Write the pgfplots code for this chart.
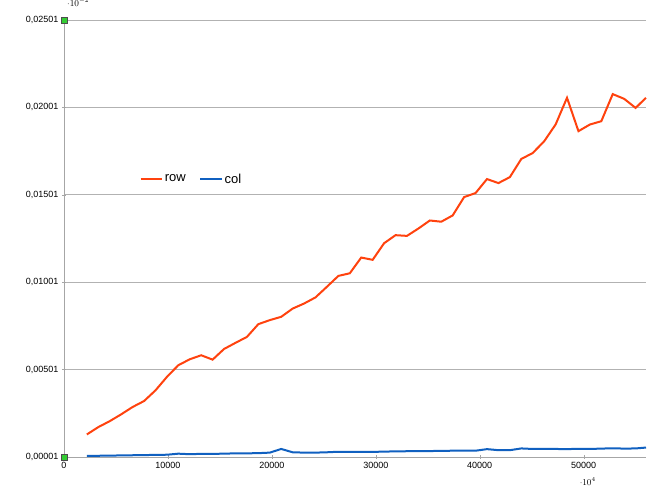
\documentclass[border=0pt]{standalone}
\usepackage{pgfplots}
\pgfplotsset{compat=1.18}
\usetikzlibrary{calc}
\usepackage{fontspec}
\setmainfont{Liberation Sans}
\definecolor{rowc}{HTML}{FF420E}
\definecolor{colc}{HTML}{1060C0}
\begin{document}
\begin{tikzpicture}
\begin{axis}[name=ax, scale only axis, width=582pt, height=437pt,
  xmin=0, xmax=56000, ymin=0.00001, ymax=0.02501,
  axis lines=left, axis line style={gray!70,-}, 
  xtick={0,10000,...,50000}, xticklabels={0,10000,20000,30000,40000,50000},
  ytick={0.00001,0.00501,0.01001,0.01501,0.02001,0.02501},
  yticklabels={{0,00001},{0,00501},{0,01001},{0,01501},{0,02001},{0,02501}},
  ymajorgrids, grid style={gray!60, line width=0.6pt},
  major tick length=4pt, tick style={gray!70},
  tick label style={font=\fontsize{9}{10}\selectfont},
  clip=false,
  legend style={draw=none, fill=none, at={(axis cs:7000,0.0159)}, anchor=west, font=\fontsize{13}{14}\selectfont, legend columns=2, /tikz/every even column/.append style={column sep=12pt}},
  legend image code/.code={\draw[#1, line width=1.5pt] (0cm,0cm) -- (0.75cm,0cm);},
]
\addplot[rowc, line width=2pt] coordinates {
(2200,0.0013)(3300,0.00172)(4400,0.00206)(5500,0.00245)(6600,0.00287)(7700,0.00321)(8800,0.00382)(9900,0.00459)(11000,0.00526)(12100,0.0056)
(13200,0.00583)(14300,0.00558)(15400,0.00619)(16500,0.00654)(17600,0.00688)(18700,0.00761)(19800,0.00784)(20900,0.00803)(22000,0.0085)(23100,0.00879)
(24200,0.00914)(25300,0.00975)(26400,0.01037)(27500,0.01052)(28600,0.01142)(29700,0.01129)(30800,0.01224)(31900,0.0127)(33000,0.01266)(34100,0.01308)
(35200,0.01354)(36300,0.01347)(37400,0.01383)(38500,0.01488)(39600,0.01511)(40700,0.01591)(41800,0.01568)(42900,0.01602)(44000,0.01706)(45100,0.0174)
(46200,0.01807)(47300,0.01903)(48400,0.02056)(49500,0.01865)(50600,0.01903)(51700,0.01922)(52800,0.02077)(53900,0.0205)(55000,0.01998)(56000,0.02056)};
\addlegendentry{row}
\addplot[colc, line width=2pt] coordinates {
(2200,0.00007)(3300,0.00008)(4400,0.00009)(5500,0.0001)(6600,0.00011)(7700,0.00012)(8800,0.00013)(9900,0.00014)(11000,0.0002)(12100,0.00017)
(13200,0.00019)(14300,0.00019)(15400,0.0002)(16500,0.00022)(17600,0.00022)(18700,0.00023)(19800,0.00026)(20900,0.00047)(22000,0.00028)(23100,0.00026)
(24200,0.00026)(25300,0.00028)(26400,0.00031)(27500,0.00031)(28600,0.0003)(29700,0.0003)(30800,0.00032)(31900,0.00033)(33000,0.00034)(34100,0.00034)
(35200,0.00035)(36300,0.00036)(37400,0.00037)(38500,0.00037)(39600,0.00037)(40700,0.00046)(41800,0.0004)(42900,0.0004)(44000,0.0005)(45100,0.00047)
(46200,0.00048)(47300,0.00047)(48400,0.00046)(49500,0.00048)(50600,0.00047)(51700,0.00049)(52800,0.00051)(53900,0.00049)(55000,0.0005)(56000,0.00055)};
\addlegendentry{col}
\addplot[only marks, mark=square*, mark size=3pt, mark options={fill=green!75!black!80, draw=black!70}, forget plot] coordinates {(0,0.00001)(0,0.02501)};
\end{axis}
\pgfresetboundingbox
\path ($(ax.south west)+(-64pt,-29pt)$) rectangle ($(ax.north east)+(3pt,20pt)$);
\end{tikzpicture}
\end{document}
